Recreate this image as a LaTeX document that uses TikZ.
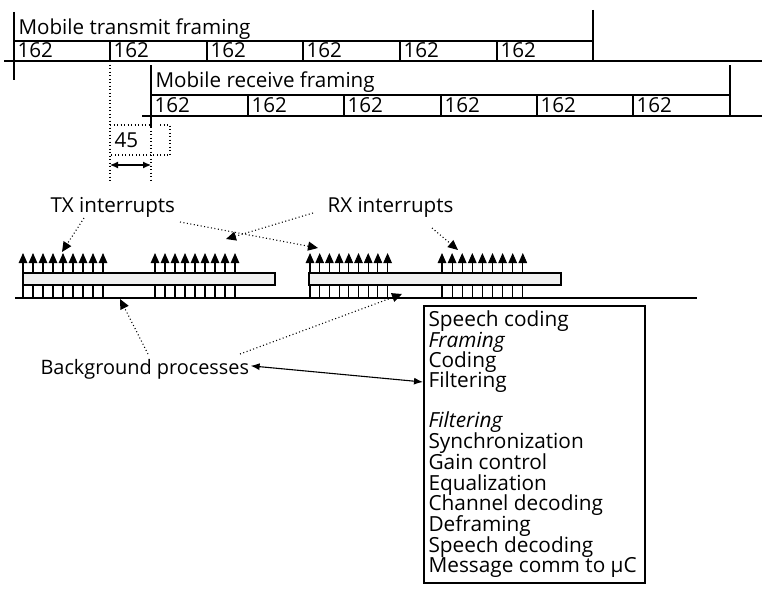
\documentclass[tikz,border=0pt]{standalone}
\usepackage{fontspec}
\setmainfont{Open Sans}
\usetikzlibrary{arrows.meta}
\begin{document}
\begin{tikzpicture}[x=1pt,y=-1pt, line width=1.1pt,
  lbl/.style={anchor=base west, inner sep=0pt, font=\fontsize{20.6}{22}\selectfont},
  num/.style={anchor=base west, inner sep=0pt, font=\fontsize{20.6}{22}\selectfont},
  boxt/.style={anchor=base west, inner sep=0pt, font=\fontsize{20.8}{22}\selectfont},
  dotl/.style={line width=1.1pt, dash pattern=on 1pt off 2.5pt},
  dtip/.style={dotl, -{Triangle[length=10pt,width=9pt]}},
  uptip/.style={-{Triangle[length=10pt,width=8.5pt]}},
  bar/.style={draw, fill=gray!12}]
\useasboundingbox (0,0) rectangle (762,594);

% ---- transmit framing
\draw (14,12) -- (14,80);
\node[lbl] (txf) at (18,35) {Mobile transmit framing};
\draw (14,41) -- (593,41);
\draw (4,61) -- (762,61);
\foreach \x in {14,110,207,303,400,497} {
  \draw (\x,41) -- (\x,61);
  \node[num] (t\x) at (\x+3,57) {162};
}
\draw (593,10) -- (593,61);

% ---- receive framing
\draw (151,65) -- (151,127);
\node[lbl] (rxf) at (155,87) {Mobile receive framing};
\draw (151,95) -- (730,95);
\draw (142,116) -- (762,116);
\foreach \x in {151,248,344,441,537,633} {
  \draw (\x,95) -- (\x,116);
  \node[num] (r\x) at (\x+3,112) {162};
}
\draw (730,65) -- (730,116);

% ---- offset 45
\draw[dotl] (110,61) -- (110,182);
\draw[dotl] (151,127) -- (151,182);
\draw[dotl] (110,125) -- (151,125);
\draw[dotl] (160,125) -- (170,125) -- (170,155) -- (110,155);
\node[num] (off) at (114,147) {45};
\coordinate (oa) at (110,165);
\coordinate (ob) at (151,165);
\draw[{Latex[length=8pt,width=7pt]}-{Latex[length=8pt,width=7pt]}] (oa) -- (ob);

% ---- interrupt labels
\node[lbl] (txi) at (50,212) {TX interrupts};
\node[lbl] (rxi) at (327,212) {RX interrupts};

% ---- bars, baseline, interrupts
\draw[bar] (23,273) rectangle (275,285);
\draw[bar] (309,273) rectangle (561,285);
\draw (15,298) -- (697,298);
\foreach \s/\d in {23/10,155/10,310/9.7,442/10.1} {
  \foreach \i in {0,...,8} {
    \draw[uptip] (\s+\d*\i,273) -- (\s+\d*\i,253);
    \draw (\s+\d*\i,285) -- (\s+\d*\i,298);
  }
}

% ---- dotted pointers
\coordinate (g1) at (62,252);
\coordinate (g2) at (226,239);
\coordinate (g3) at (318,248);
\coordinate (g4) at (458,250);
\coordinate (b1) at (120,299);
\coordinate (b2) at (402,294);
\draw[dtip] (84,218) -- (g1);
\draw[dtip] (180,222) -- (g3);
\draw[dtip] (313,213) -- (g2);
\draw[dtip] (432,228) -- (g4);

% ---- background processes
\node[lbl, font=\fontsize{19.9}{22}\selectfont] (bg) at (40,374) {Background processes};
\draw[dtip] (148,354) -- (b1);
\draw[dtip] (240,354) -- (b2);

% ---- task list box
\draw (424,306) rectangle (645,583);
\node[boxt] (l1) at (428,326) {Speech coding};
\node[boxt] (l2) at (428,347) {\itshape Framing};
\node[boxt] (l3) at (428,367) {Coding};
\node[boxt] (l4) at (428,387) {Filtering};
\node[boxt] (l5) at (428,427) {\itshape Filtering};
\node[boxt] (l6) at (428,448) {Synchronization};
\node[boxt] (l7) at (428,469) {Gain control};
\node[boxt] (l8) at (428,490) {Equalization};
\node[boxt] (l9) at (428,510) {Channel decoding};
\node[boxt] (l10) at (428,531) {Deframing};
\node[boxt] (l11) at (428,552) {Speech decoding};
\node[boxt] (l12) at (428,572) {Message comm to µC};
\coordinate (boxin) at (423,382);
\draw[{Latex[length=9pt,width=7pt]}-{Latex[length=9pt,width=7pt]}] (bg.east) ++(1,-3) -- (boxin);
\end{tikzpicture}
\end{document}
